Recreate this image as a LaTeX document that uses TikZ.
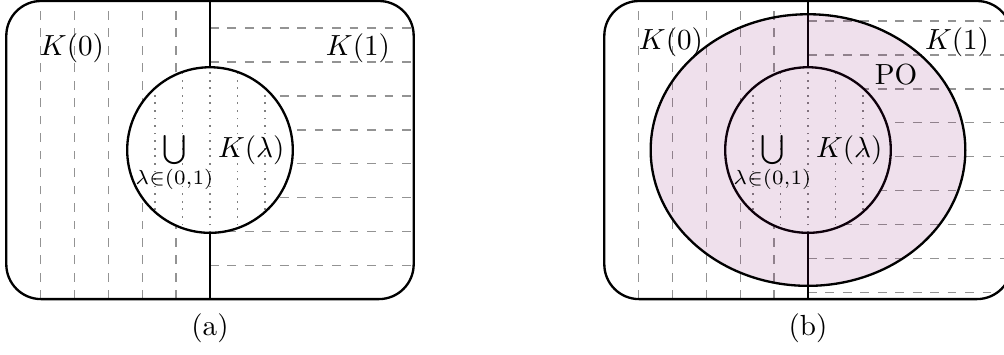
\documentclass[tikz,border=0pt]{standalone}
\usepackage{amsmath, amssymb}
\usepackage{tikz}
\usetikzlibrary{positioning}

\definecolor{poshade}{RGB}{123,0,97}

\tikzset{
  frame/.style={thick, rounded corners=0.42cm},
  hatch/.style={dashed, gray!85},
  fine/.style={dotted, semithick, gray},
}

\begin{document}
\begin{tikzpicture}
  \useasboundingbox (-2.536,-2.464) rectangle (9.589,1.812);

  % (a)
  \begin{scope}
    \begin{scope}[even odd rule]
      \clip[rounded corners=0.42cm] (-2.46,-1.8) rectangle (2.46,1.8);
      \clip (-3,-2) rectangle (3,2) (0,0) circle (1);
      \foreach \i in {1,...,5}
        \draw[hatch] (-0.41*\i,-1.8) -- (-0.41*\i,1.8);
      \foreach \k in {0,...,7}
        \draw[hatch] (0,1.473-0.41*\k) -- (2.5,1.473-0.41*\k);
    \end{scope}
    \begin{scope}
      \clip (0,0) circle (1);
      \foreach \x in {-2,...,2}
        \draw[fine] (\x/3,-1) -- (\x/3,1);
    \end{scope}
    \draw[frame] (-2.46,-1.8) rectangle (2.46,1.8);
    \draw[thick] (0,1.8) -- (0,1) (0,-1) -- (0,-1.8);
    \draw[thick] (0,0) circle (1);
    \node (k0a) at (-1.667,1.23) {$K(0)$};
    \node (k1a) at (1.787,1.23) {$K(1)$};
    \node[anchor=base] (unia) at (0,-0.09) {$\bigcup\limits_{\lambda\in(0,1)} K(\lambda)$};
    \node (capa) at (0,-2.15) {(a)};
  \end{scope}

  % (b)
  \begin{scope}[xshift=7.222cm]
    \begin{scope}[even odd rule]
      \clip[rounded corners=0.42cm] (-2.46,-1.8) rectangle (2.46,1.8);
      \clip (-3,-2) rectangle (3,2) (0,0) circle (1);
      \foreach \i in {1,...,5}
        \draw[hatch] (-0.41*\i,-1.8) -- (-0.41*\i,1.8);
      \foreach \k in {0,...,8}
        \draw[hatch] (0,1.558-0.41*\k) -- (2.5,1.558-0.41*\k);
    \end{scope}
    \begin{scope}
      \clip (0,0) circle (1);
      \foreach \x in {-2,...,2}
        \draw[fine] (\x/3,-1) -- (\x/3,1);
    \end{scope}
    \draw[frame] (-2.46,-1.8) rectangle (2.46,1.8);
    \draw[thick] (0,1.8) -- (0,1) (0,-1) -- (0,-1.8);
    \draw[thick] (0,0) circle (1);
    % PO region
    \draw[thick, fill=poshade, fill opacity=0.12] (0,0) ellipse (1.9 and 1.64);
    \node (k0b) at (-1.655,1.3) {$K(0)$};
    \node (k1b) at (1.8,1.3) {$K(1)$};
    \node (po) at (1.063,0.906) {PO};
    \node[anchor=base] (unib) at (0,-0.09) {$\bigcup\limits_{\lambda\in(0,1)} K(\lambda)$};
    \node (capb) at (0,-2.15) {(b)};
  \end{scope}
\end{tikzpicture}
\end{document}
